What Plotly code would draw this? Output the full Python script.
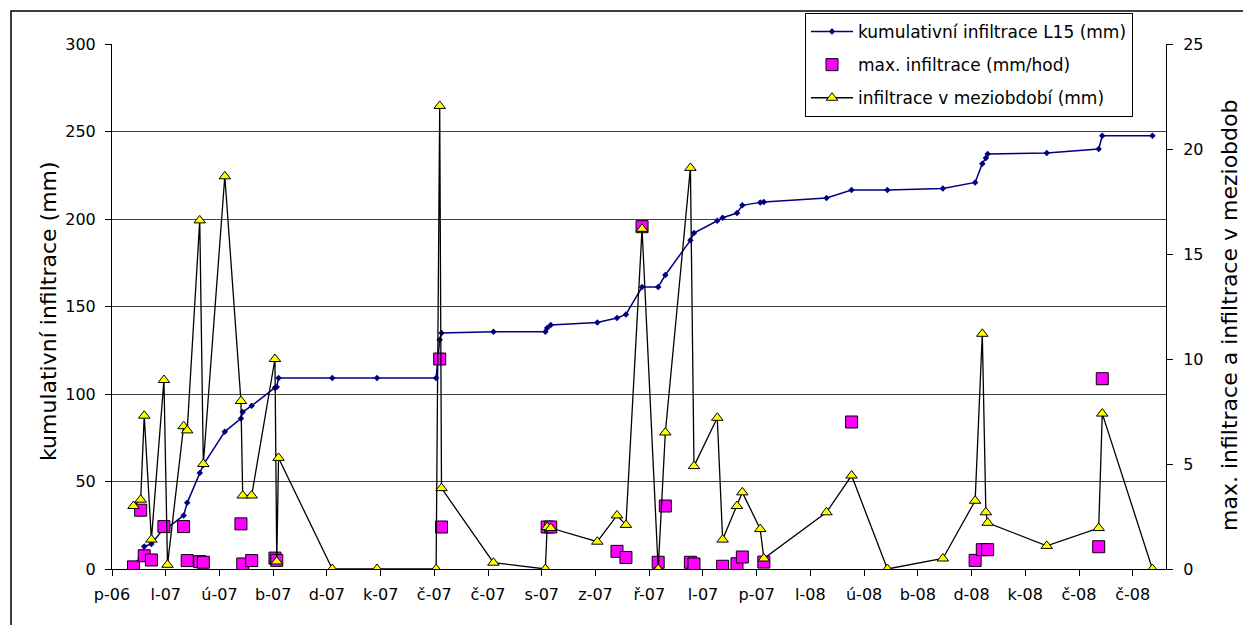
import plotly.graph_objects as go

# observation dates (shared by all three series)
dates = ["2006-12-22", "2006-12-26", "2006-12-28", "2007-01-01", "2007-01-08", "2007-01-10",
         "2007-01-19", "2007-01-21", "2007-01-28", "2007-01-30", "2007-02-11", "2007-02-20", "2007-02-21",
         "2007-02-26", "2007-03-11", "2007-03-12", "2007-03-13", "2007-04-12", "2007-05-07", "2007-06-09",
         "2007-06-11", "2007-06-12", "2007-07-11", "2007-08-09", "2007-08-10", "2007-08-12", "2007-09-07",
         "2007-09-18", "2007-09-23", "2007-10-02", "2007-10-11", "2007-10-15", "2007-10-29", "2007-10-31",
         "2007-11-13", "2007-11-16", "2007-11-24", "2007-11-27", "2007-12-07", "2007-12-09", "2008-01-13",
         "2008-01-27", "2008-02-16", "2008-03-18", "2008-04-05", "2008-04-09", "2008-04-11", "2008-04-12",
         "2008-05-15", "2008-06-13", "2008-06-15", "2008-07-13"]

# kumulativní infiltrace L15 (mm) - left axis
kumulativni = [3.0, 6.3, 12.9, 14.3, 23.3, 23.5,
               30.6, 37.8, 54.8, 59.5, 78.5, 86.0, 89.7,
               93.3, 103.6, 104.0, 109.1, 109.1, 109.1, 109.1,
               131.0, 134.8, 135.6, 135.6, 137.7, 139.4, 140.9,
               143.4, 145.5, 161.1, 161.1, 168.0, 187.8, 192.0,
               199.0, 200.7, 203.4, 207.8, 209.5, 209.7, 212.0,
               216.6, 216.6, 217.5, 220.9, 231.6, 234.9, 237.1,
               237.7, 240.0, 247.6, 247.6]

# max. infiltrace (mm/hod) - right axis
max_infiltrace = [0.1, 2.8, 0.63, 0.43, 2.02, None,
                  2.02, 0.4, 0.35, 0.32, None, 2.15, 0.24,
                  0.4, 0.52, 0.41, None, None, None, None,
                  10.0, 2.0, None, None, 2.0, 2.0, None,
                  0.84, 0.55, 16.3, 0.32, 3.0, 0.32, 0.24,
                  None, 0.13, 0.25, 0.57, None, 0.33, None,
                  7.0, None, None, 0.41, 0.92, None, 0.92,
                  None, 1.06, 9.06, None]

# infiltrace v meziobdobí (mm) - right axis
meziobdobi = [3.0, 3.3, 7.3, 1.4, 9.0, 0.2,
              6.8, 6.6, 16.6, 5.0, 18.7, 8.0, 3.5,
              3.5, 10.0, 0.36, 5.29, 0.0, 0.0, 0.0,
              22.05, 3.85, 0.3, 0.0, 2.0, 1.95, 1.3,
              2.55, 2.1, 16.2, 0.0, 6.5, 19.1, 4.9,
              7.2, 1.4, 3.0, 3.65, 1.9, 0.5, 2.7,
              4.45, 0.0, 0.5, 3.25, 11.2, 2.7, 2.2,
              1.1, 1.95, 7.4, 0.0]

# x-axis ticks (evenly spaced, 30 days)
tick_dates = ["2006-12-10", "2007-01-09", "2007-02-08", "2007-03-10", "2007-04-09", "2007-05-09",
              "2007-06-08", "2007-07-08", "2007-08-07", "2007-09-06", "2007-10-06", "2007-11-05",
              "2007-12-05", "2008-01-04", "2008-02-03", "2008-03-04", "2008-04-03", "2008-05-03",
              "2008-06-02", "2008-07-02"]
tick_text = ["p-06", "l-07", "ú-07", "b-07", "d-07", "k-07", "č-07", "č-07", "s-07", "z-07",
             "ř-07", "l-07", "p-07", "l-08", "ú-08", "b-08", "d-08", "k-08", "č-08", "č-08"]
x_range = ["2006-12-10", "2008-07-20 14:00"]

FONT = "DejaVu Sans"
W, H = 1243, 625
L, R, T, B = 112, 77, 44, 56
pw, ph = W - L - R, H - T - B


def px_x(px):
    return (px - L) / pw


def px_y(py):
    return (H - B - py) / ph


fig = go.Figure()
fig.add_trace(go.Scatter(
    x=dates, y=kumulativni, name="kumulativní infiltrace L15 (mm)",
    mode="lines+markers", legendgroup="a",
    line=dict(color="#000080", width=1.5),
    marker=dict(symbol="diamond", size=5, color="#000080"),
))
fig.add_trace(go.Scatter(
    x=dates, y=max_infiltrace, name="max. infiltrace (mm/hod)",
    mode="markers", yaxis="y2", legendgroup="b",
    marker=dict(symbol="square", size=12, color="#FF00FF", line=dict(color="#000000", width=1)),
))
fig.add_trace(go.Scatter(
    x=dates, y=meziobdobi, name="infiltrace v meziobdobí (mm)",
    mode="lines+markers", yaxis="y2", legendgroup="c",
    line=dict(color="#000000", width=1.3),
    marker=dict(symbol="triangle-up", size=10, color="#FFFF00", line=dict(color="#000000", width=1)),
))

fig.update_layout(
    width=W, height=H,
    margin=dict(l=L, r=R, t=T, b=B),
    paper_bgcolor="white", plot_bgcolor="white",
    font=dict(family=FONT, size=16, color="black"),
    showlegend=True,
    legend=dict(
        x=px_x(805), y=px_y(13), xanchor="left", yanchor="top",
        bgcolor="white", bordercolor="#000000", borderwidth=1,
        font=dict(family=FONT, size=17, color="black"),
        tracegroupgap=8, traceorder="grouped", itemwidth=42,
    ),
    xaxis=dict(
        type="date", range=x_range, tickmode="array", tickvals=tick_dates, ticktext=tick_text,
        showgrid=False, showline=True, linecolor="black", linewidth=1,
        ticks="outside", ticklen=6, tickcolor="black", ticklabelstandoff=5,
        tickfont=dict(family=FONT, size=16), zeroline=False,
    ),
    yaxis=dict(
        range=[0, 300], tickmode="array", tickvals=[0, 50, 100, 150, 200, 250, 300],
        showgrid=True, gridcolor="#404040", gridwidth=1,
        showline=True, linecolor="black", linewidth=1,
        ticks="outside", ticklen=6, tickcolor="black", ticklabelstandoff=6,
        tickfont=dict(family=FONT, size=16), zeroline=False,
    ),
    yaxis2=dict(
        range=[0, 25], overlaying="y", side="right", tickmode="array",
        tickvals=[0, 5, 10, 15, 20, 25], showgrid=False,
        showline=True, linecolor="black", linewidth=1,
        ticks="outside", ticklen=6, tickcolor="black", ticklabelstandoff=7,
        tickfont=dict(family=FONT, size=16), zeroline=False,
    ),
    annotations=[
        dict(text="kumulativní infiltrace (mm)", textangle=-90, xref="paper", yref="paper",
             x=px_x(48), y=px_y(311), xanchor="center", yanchor="middle", showarrow=False,
             font=dict(family=FONT, size=22, color="black")),
        dict(text="max. infiltrace a infiltrace v meziobdob", textangle=-90, xref="paper", yref="paper",
             x=px_x(1229), y=px_y(316), xanchor="center", yanchor="middle", showarrow=False,
             font=dict(family=FONT, size=22, color="black")),
    ],
    shapes=[
        dict(type="rect", xref="paper", yref="paper", x0=px_x(11), y0=px_y(11),
             x1=px_x(1300), y1=px_y(700), line=dict(color="black", width=1.5), layer="below"),
    ],
)

fig.write_html("out.html")
